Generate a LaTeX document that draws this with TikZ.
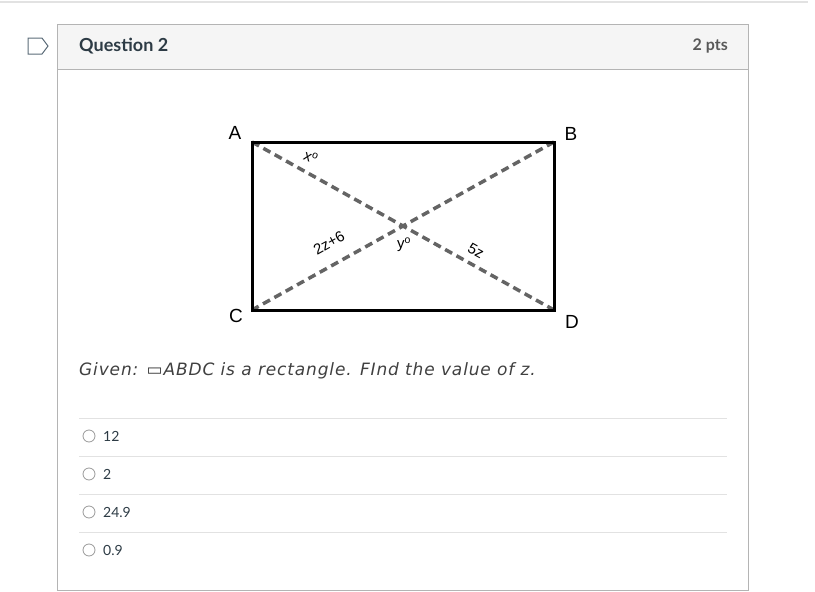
\documentclass[tikz,border=0pt]{standalone}
\usepackage{fontspec}
\setmainfont{Lato}
\newfontfamily\labelfont{Liberation Sans}
\newfontfamily\givenfont[LetterSpace=5]{DejaVu Sans}
\definecolor{boxgray}{HTML}{B4B4B4}
\definecolor{headfill}{HTML}{F5F5F5}
\definecolor{rulegray}{HTML}{E2E2E2}
\definecolor{textdark}{HTML}{2D3B45}
\definecolor{dashgray}{HTML}{646464}
\definecolor{flaggray}{HTML}{5B6B78}
\tikzset{
	corner/.style={font=\labelfont\fontsize{19}{19}\selectfont, inner sep=0pt},
	angletext/.style={font=\labelfont\fontsize{15}{15}\selectfont, inner sep=0pt},
	diag/.style={dashgray, line width=3.5pt, dash pattern=on 8pt off 5pt},
	option/.style={font=\fontsize{14}{14}\selectfont, text=textdark, anchor=west, inner sep=0pt},
	radio/.style={circle, draw=gray!80, line width=0.8pt, minimum size=12pt, inner sep=0pt}
}
\begin{document}
\begin{tikzpicture}[x=1pt, y=-1pt]
\useasboundingbox (0,0) rectangle (815,592);
\draw[rulegray, line width=1.5pt] (0,2) -- (808,2);
% flag
\draw[flaggray, line width=1pt] (28,38) -- (42,38) -- (48,46) -- (42,54) -- (28,54) -- cycle;
% question box
\draw[boxgray, line width=1pt] (57,24) rectangle (748,590);
\draw[boxgray, fill=headfill, line width=1pt] (57,24) rectangle (748,69);
\node[anchor=west, inner sep=0pt, text=textdark, font=\bfseries\fontsize{18}{18}\selectfont] (title) at (79,46) {Question 2};
\node[anchor=east, inner sep=0pt, text=black!65, font=\bfseries\fontsize{16}{16}\selectfont] (points) at (728,46) {2 pts};
% rectangle ABDC
\coordinate (A) at (252,142);
\coordinate (B) at (554,142);
\coordinate (C) at (252,310);
\coordinate (D) at (554,310);
\draw[diag] (A) -- (D);
\draw[diag] (B) -- (C);
\draw[line width=3pt, line join=miter] (A) -- (B) -- (D) -- (C) -- cycle;
\node[corner] (lA) at (235,133) {A};
\node[corner] (lB) at (571,134) {B};
\node[corner] (lC) at (236,316) {C};
\node[corner] (lD) at (572,322) {D};
\node[angletext, rotate=-22] (x) at (311,157) {x\textsuperscript{o}};
\node[angletext] (y) at (404,245) {y\textsuperscript{o}};
\node[angletext, rotate=29] (zz) at (329,243) {2z+6};
\node[angletext, rotate=-29] (fz) at (476,251) {5z};
\node[anchor=west, inner sep=0pt, text=black!75, font=\givenfont\itshape\fontsize{17}{17}\selectfont] (given) at (79,371) {Given: ▭ABDC is a rectangle. FInd the value of z.};
% answers
\foreach \y/\v [count=\i] in {436/12, 474/2, 512/24.9, 550/0.9}
{
	\draw[rulegray, line width=1pt] (79,\y-18) -- (727,\y-18);
	\node[radio] (r\i) at (89,\y) {};
	\node[option] (o\i) at (103,\y) {\v};
}
\end{tikzpicture}
\end{document}
